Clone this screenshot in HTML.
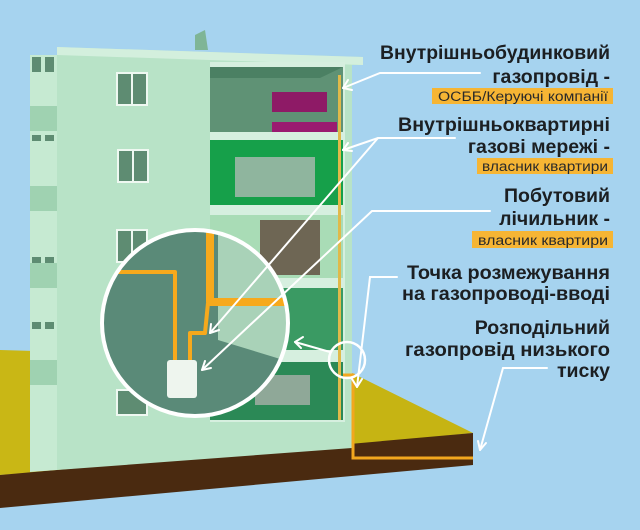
<!DOCTYPE html>
<html><head><meta charset="utf-8"><style>
html,body{margin:0;padding:0;background:#a6d3ef}
svg{display:block}
text{font-family:"Liberation Sans",sans-serif;font-weight:bold;fill:#1c1f22}
.l{font-weight:normal;font-size:13.5px;fill:#2a2a2a}
</style></head><body>
<svg width="640" height="530" viewBox="0 0 640 530" xmlns="http://www.w3.org/2000/svg">
<rect width="640" height="530" fill="#a6d3ef"/>
<!-- ground -->
<polygon points="0,350 70,352 70,470 0,475" fill="#c9b715"/>
<polygon points="350,372 473,433 350,445" fill="#c6b413"/>
<polygon points="0,475 473,433 473,465 0,508" fill="#4a2a10"/>
<!-- building -->
<polygon points="30,55 57,55 57,470 30,472" fill="#c6ead2"/>
<g fill="#5e8c72">
<rect x="32" y="57" width="9" height="15"/><rect x="45" y="57" width="9" height="15"/>
<rect x="32" y="135" width="9" height="6"/><rect x="45" y="135" width="9" height="6"/>
<rect x="32" y="257" width="9" height="7"/><rect x="45" y="257" width="9" height="7"/>
<rect x="32" y="322" width="9" height="7"/><rect x="45" y="322" width="9" height="7"/>
</g>
<g fill="#9fd2b1"><rect x="30" y="106" width="27" height="25"/><rect x="30" y="186" width="27" height="25"/><rect x="30" y="263" width="27" height="25"/><rect x="30" y="360" width="27" height="25"/></g>
<polygon points="57,47 363,57 363,65 352,65 352,448 57,470" fill="#b8e3c7"/>
<polygon points="57,47 363,57 363,65 57,55" fill="#d3efdd"/>
<polygon points="195,35 205,30 208,50 195,50" fill="#7fb596"/>
<g fill="#5e8c72" stroke="#eef8f1" stroke-width="2">
<rect x="117" y="73" width="30" height="32"/><rect x="118" y="150" width="30" height="32"/><rect x="117" y="230" width="30" height="32"/><rect x="117" y="390" width="30" height="25"/>
</g>
<g stroke="#eef8f1" stroke-width="2"><line x1="132" y1="73" x2="132" y2="105"/><line x1="133" y1="150" x2="133" y2="182"/><line x1="132" y1="230" x2="132" y2="262"/></g>
<!-- interior -->
<rect x="210" y="62" width="135" height="360" fill="#d6efdf"/>
<rect x="210" y="67" width="133" height="65" fill="#5f9275"/>
<polygon points="210,67 343,67 320,78 210,78" fill="#4b8063"/>
<rect x="272" y="92" width="55" height="20" fill="#8e1a66"/><rect x="272" y="122" width="65" height="10" fill="#9a1a70"/>
<rect x="210" y="140" width="133" height="65" fill="#16a04a"/>
<rect x="235" y="157" width="80" height="40" fill="#8fb59e"/>
<rect x="210" y="215" width="133" height="63" fill="#a9dcb6"/>
<rect x="260" y="220" width="60" height="55" fill="#6e6654"/>
<rect x="210" y="288" width="133" height="62" fill="#3a9a63"/>
<rect x="210" y="362" width="133" height="58" fill="#2b8956"/>
<rect x="255" y="375" width="55" height="30" fill="#8fa898"/>
<rect x="338" y="75" width="3" height="345" fill="#e0b94a"/>
<!-- circle -->
<circle cx="195" cy="323" r="93" fill="#5a8a78"/>
<clipPath id="c"><circle cx="195" cy="323" r="93"/></clipPath>
<g clip-path="url(#c)">
<polygon points="218,232 300,232 300,365 218,340" fill="#a9d2b8"/>
<g fill="none" stroke="#f6a91c" stroke-linejoin="round">
<path d="M210,230 V302 H300" stroke-width="8"/>
<path d="M95,272 H175 V360" stroke-width="4"/>
<path d="M208,303 L205,333 H190 V360" stroke-width="4"/>
</g>
<rect x="167" y="360" width="30" height="38" rx="3" fill="#eef5ee"/>
</g>
<circle cx="195" cy="323" r="93" fill="none" stroke="#fff" stroke-width="4"/>
<!-- pipe to ground -->
<path d="M343,375 H353 V458 H473" fill="none" stroke="#f2a71e" stroke-width="3"/>
<circle cx="347" cy="360" r="18" fill="none" stroke="#fff" stroke-width="2.5"/>
<!-- leader lines -->
<g stroke="#fff" stroke-width="2" fill="none" stroke-linecap="round">
<path d="M480,73 H380 L343,88"/><path d="M343,88 l5,-8 M343,88 l9,2"/>
<path d="M455,138 H378 L343,150"/><path d="M378,138 L210,333"/>
<path d="M343,150 l5,-7 M343,150 l9,1 M210,333 l1,-9 M210,333 l9,-3"/>
<path d="M490,211 H372 L202,370"/><path d="M202,370 l3,-9 M202,370 l9,-2"/>
<path d="M397,277 H370 L357,387"/><path d="M357,387 l-5,-8 M357,387 l5,-8"/>
<path d="M330,352 L295,342"/><path d="M295,342 l8,-5 M295,342 l6,6"/>
<path d="M547,368 H503 L480,450"/><path d="M480,450 l-2,-9 M480,450 l6,-7"/>
</g>
<!-- text -->
<g font-size="19.5" text-anchor="end">
<text x="610" y="59" textLength="230" lengthAdjust="spacingAndGlyphs">Внутрішньобудинковий</text>
<text x="610" y="83">газопровід -</text>
<text x="610" y="131" textLength="212" lengthAdjust="spacingAndGlyphs">Внутрішньоквартирні</text>
<text x="610" y="153">газові мережі -</text>
<text x="610" y="202">Побутовий</text>
<text x="610" y="225">лічильник -</text>
<text x="610" y="279" textLength="203" lengthAdjust="spacingAndGlyphs">Точка розмежування</text>
<text x="610" y="300" textLength="208" lengthAdjust="spacingAndGlyphs">на газопроводі-вводі</text>
<text x="610" y="334">Розподільний</text>
<text x="610" y="356" textLength="205" lengthAdjust="spacingAndGlyphs">газопровід низького</text>
<text x="610" y="377">тиску</text>
</g>
<rect x="432" y="88" width="181" height="16" fill="#f6b534"/>
<rect x="477" y="158" width="136" height="16" fill="#f6b534"/>
<rect x="472" y="231" width="141" height="17" fill="#f6b534"/>
<g text-anchor="end">
<text class="l" x="608" y="101" textLength="170" lengthAdjust="spacingAndGlyphs">ОСББ/Керуючі компанії</text>
<text class="l" x="608" y="171" textLength="126" lengthAdjust="spacingAndGlyphs">власник квартири</text>
<text class="l" x="608" y="245" textLength="130" lengthAdjust="spacingAndGlyphs">власник квартири</text>
</g>
</svg>
</body></html>
